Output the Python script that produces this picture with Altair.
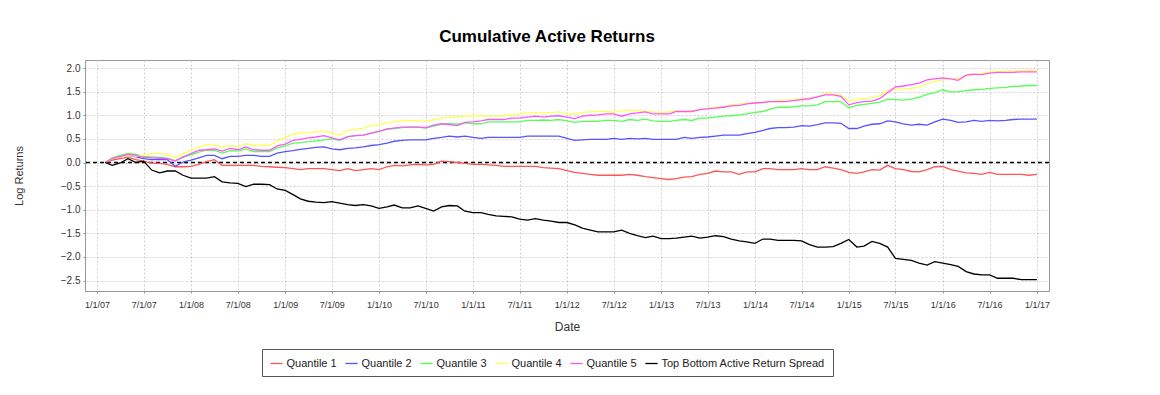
import altair as alt
import pandas as pd

# Monthly observation dates (first of month), Feb 2007 .. Jan 2017
dates = pd.date_range("2007-02-01", periods=120, freq="MS").strftime("%Y-%m-%d").tolist()

series_names = ["Quantile 1", "Quantile 2", "Quantile 3", "Quantile 4", "Quantile 5",
                "Top Bottom Active Return Spread"]
series_colors = ["#ff5555", "#5555ff", "#55ff55", "#ffff55", "#ff55ff", "#000000"]
series_widths = [1.3, 1.3, 1.3, 1.3, 1.3, 3.0]

q1 = [0.00, 0.05, 0.08, 0.11, 0.06, 0.03, -0.01, -0.02, -0.04, -0.09, -0.09, -0.08, -0.04, 0.02, 0.06, -0.06, -0.06, -0.06, -0.06, -0.06, -0.08, -0.09, -0.10,
      -0.11, -0.13, -0.15, -0.13, -0.13, -0.13, -0.15, -0.17, -0.13, -0.17, -0.15, -0.13, -0.15, -0.09, -0.06, -0.07, -0.05, -0.04, -0.05, -0.04, 0.03, 0.02, 0.00, -0.02,
      -0.04, -0.04, -0.05, -0.06, -0.08, -0.08, -0.08, -0.08, -0.08, -0.11, -0.12, -0.13, -0.17, -0.21, -0.23, -0.25, -0.27, -0.27, -0.27, -0.27, -0.25, -0.27, -0.30, -0.32,
      -0.34, -0.36, -0.34, -0.31, -0.30, -0.25, -0.23, -0.18, -0.20, -0.20, -0.25, -0.20, -0.20, -0.13, -0.13, -0.15, -0.15, -0.15, -0.13, -0.15, -0.15, -0.09, -0.12, -0.15, -0.21,
      -0.23, -0.20, -0.15, -0.16, -0.06, -0.13, -0.15, -0.19, -0.20, -0.15, -0.09, -0.08, -0.15, -0.18, -0.22, -0.23, -0.25, -0.21, -0.25, -0.25, -0.25, -0.25, -0.27, -0.25]

q2 = [0.00, 0.08, 0.12, 0.15, 0.12, 0.08, 0.06, 0.06, 0.06, -0.08, 0.01, 0.05, 0.10, 0.15, 0.15, 0.08, 0.13, 0.13, 0.15, 0.15, 0.13, 0.13, 0.20,
      0.23, 0.25, 0.28, 0.30, 0.32, 0.33, 0.29, 0.27, 0.30, 0.31, 0.33, 0.36, 0.38, 0.41, 0.45, 0.47, 0.48, 0.48, 0.48, 0.51, 0.53, 0.56, 0.54, 0.56,
      0.53, 0.51, 0.53, 0.53, 0.53, 0.53, 0.53, 0.56, 0.56, 0.56, 0.56, 0.56, 0.51, 0.47, 0.48, 0.49, 0.49, 0.49, 0.51, 0.49, 0.51, 0.50, 0.51, 0.49,
      0.49, 0.49, 0.49, 0.53, 0.51, 0.53, 0.54, 0.56, 0.58, 0.58, 0.58, 0.61, 0.64, 0.68, 0.72, 0.74, 0.74, 0.75, 0.78, 0.77, 0.80, 0.84, 0.84, 0.83, 0.72,
      0.72, 0.77, 0.81, 0.82, 0.88, 0.86, 0.82, 0.79, 0.81, 0.79, 0.86, 0.92, 0.89, 0.85, 0.86, 0.89, 0.87, 0.89, 0.88, 0.89, 0.91, 0.92, 0.92, 0.92]

q3 = [0.00, 0.10, 0.15, 0.19, 0.17, 0.13, 0.12, 0.11, 0.09, 0.04, 0.11, 0.16, 0.22, 0.26, 0.26, 0.20, 0.25, 0.24, 0.29, 0.23, 0.23, 0.23, 0.31,
      0.35, 0.41, 0.42, 0.44, 0.46, 0.48, 0.50, 0.47, 0.54, 0.57, 0.58, 0.62, 0.66, 0.70, 0.72, 0.74, 0.75, 0.75, 0.73, 0.77, 0.81, 0.82, 0.81, 0.84,
      0.82, 0.82, 0.86, 0.86, 0.86, 0.86, 0.86, 0.89, 0.89, 0.90, 0.89, 0.91, 0.88, 0.85, 0.87, 0.87, 0.87, 0.89, 0.89, 0.87, 0.91, 0.89, 0.92, 0.88,
      0.87, 0.87, 0.89, 0.91, 0.89, 0.94, 0.94, 0.96, 0.98, 0.99, 1.01, 1.03, 1.06, 1.08, 1.13, 1.17, 1.17, 1.18, 1.20, 1.20, 1.22, 1.29, 1.29, 1.29, 1.16,
      1.21, 1.23, 1.25, 1.28, 1.34, 1.33, 1.32, 1.34, 1.38, 1.44, 1.48, 1.54, 1.49, 1.50, 1.52, 1.54, 1.55, 1.57, 1.58, 1.59, 1.61, 1.62, 1.63, 1.63]

q4 = [0.00, 0.08, 0.12, 0.15, 0.13, 0.15, 0.19, 0.19, 0.17, 0.10, 0.19, 0.26, 0.33, 0.38, 0.37, 0.33, 0.36, 0.33, 0.40, 0.36, 0.36, 0.36, 0.46,
      0.53, 0.60, 0.62, 0.64, 0.65, 0.66, 0.63, 0.58, 0.68, 0.70, 0.73, 0.78, 0.80, 0.84, 0.86, 0.88, 0.89, 0.88, 0.87, 0.91, 0.94, 0.96, 0.96, 0.99,
      0.99, 0.99, 0.98, 0.98, 0.99, 1.01, 1.03, 1.05, 1.05, 1.05, 1.05, 1.07, 1.03, 1.03, 1.06, 1.07, 1.08, 1.08, 1.06, 1.10, 1.11, 1.10, 1.08, 1.07,
      1.06, 1.07, 1.10, 1.08, 1.10, 1.12, 1.14, 1.17, 1.19, 1.22, 1.24, 1.25, 1.27, 1.28, 1.29, 1.32, 1.32, 1.33, 1.35, 1.36, 1.40, 1.45, 1.45, 1.42, 1.30,
      1.33, 1.35, 1.37, 1.41, 1.52, 1.55, 1.56, 1.57, 1.60, 1.67, 1.71, 1.75, 1.78, 1.78, 1.83, 1.86, 1.88, 1.92, 1.93, 1.94, 1.94, 1.95, 1.95, 1.95]

q5 = [0.00, 0.09, 0.13, 0.17, 0.15, 0.11, 0.10, 0.09, 0.08, 0.03, 0.12, 0.19, 0.26, 0.27, 0.29, 0.24, 0.30, 0.27, 0.33, 0.27, 0.26, 0.26, 0.35,
      0.39, 0.47, 0.49, 0.52, 0.54, 0.57, 0.52, 0.48, 0.55, 0.57, 0.58, 0.62, 0.66, 0.71, 0.73, 0.75, 0.75, 0.75, 0.74, 0.79, 0.82, 0.80, 0.78, 0.85,
      0.86, 0.88, 0.91, 0.91, 0.91, 0.94, 0.94, 0.96, 0.98, 0.96, 0.98, 0.99, 0.96, 0.93, 0.98, 1.00, 1.01, 1.03, 1.03, 0.98, 1.03, 1.05, 1.07, 1.03,
      1.03, 1.03, 1.08, 1.08, 1.08, 1.12, 1.14, 1.15, 1.17, 1.20, 1.21, 1.24, 1.26, 1.27, 1.29, 1.29, 1.29, 1.31, 1.33, 1.35, 1.39, 1.43, 1.43, 1.40, 1.22,
      1.27, 1.29, 1.30, 1.35, 1.48, 1.60, 1.62, 1.65, 1.68, 1.75, 1.77, 1.79, 1.77, 1.74, 1.85, 1.87, 1.86, 1.89, 1.91, 1.91, 1.91, 1.92, 1.92, 1.92]

spread = [0.00, -0.06, -0.01, 0.08, 0.00, 0.03, -0.16, -0.22, -0.18, -0.18, -0.27, -0.33, -0.33, -0.33, -0.30, -0.41, -0.43, -0.44, -0.51, -0.46, -0.46, -0.47, -0.56,
          -0.59, -0.68, -0.77, -0.82, -0.84, -0.85, -0.83, -0.86, -0.89, -0.91, -0.89, -0.92, -0.97, -0.94, -0.90, -0.96, -0.96, -0.92, -0.97, -1.03, -0.94, -0.91, -0.92, -1.03,
          -1.06, -1.06, -1.10, -1.13, -1.14, -1.15, -1.20, -1.22, -1.19, -1.22, -1.24, -1.27, -1.27, -1.32, -1.39, -1.43, -1.47, -1.47, -1.47, -1.43, -1.50, -1.55, -1.59, -1.56,
          -1.61, -1.61, -1.60, -1.58, -1.56, -1.60, -1.58, -1.55, -1.57, -1.62, -1.66, -1.68, -1.71, -1.62, -1.62, -1.65, -1.65, -1.65, -1.66, -1.74, -1.79, -1.79, -1.78, -1.71, -1.63,
          -1.79, -1.77, -1.67, -1.71, -1.79, -2.03, -2.05, -2.07, -2.13, -2.17, -2.10, -2.13, -2.16, -2.20, -2.31, -2.36, -2.38, -2.38, -2.45, -2.45, -2.45, -2.48, -2.48, -2.48]

y_ticks = [-2.5, -2.0, -1.5, -1.0, -0.5, 0.0, 0.5, 1.0, 1.5, 2.0]
x_tick_years = list(range(2007, 2017))

rows = []
for name, vals in zip(series_names, [q1, q2, q3, q4, q5, spread]):
    for d, v in zip(dates, vals):
        rows.append({"date": d, "value": v, "series": name})
df = pd.DataFrame(rows)

x_ticks = []
for yr in x_tick_years:
    x_ticks.append(alt.DateTime(year=yr, month=1, date=1, utc=True))
    x_ticks.append(alt.DateTime(year=yr, month=7, date=1, utc=True))
x_ticks.append(alt.DateTime(year=2017, month=1, date=1, utc=True))

FONT = "Liberation Sans"

legend = alt.Legend(
    title=None, orient="none", legendX=177, legendY=289, direction="horizontal",
    columns=6, columnPadding=5, symbolType="stroke", symbolSize=150, labelFontSize=11,
    labelFont=FONT, labelColor="#222", labelOffset=3, padding=7.5,
    strokeColor="#555", fillColor="white", labelLimit=400,
)

y_scale = alt.Scale(domain=[-2.72, 2.17], nice=False, zero=False)
y_axis = alt.Axis(values=y_ticks, format=".1f", title="Log Returns", labelOverlap=False,
                  labelFontSize=10, titleFontSize=11, labelPadding=3, titlePadding=36)

lines = alt.Chart(df).mark_line(clip=True).encode(
    x=alt.X("date:T",
            scale=alt.Scale(type="utc",
                            domain=[alt.DateTime(year=2006, month=11, date=15, utc=True),
                                    alt.DateTime(year=2017, month=2, date=17, utc=True)]),
            axis=alt.Axis(values=x_ticks, format="%-m/%-d/%y", title="Date", labelOverlap=False,
                          labelFontSize=9, titleFontSize=12, labelPadding=7, titlePadding=12)),
    y=alt.Y("value:Q", scale=y_scale, axis=y_axis),
    color=alt.Color("series:N", scale=alt.Scale(domain=series_names, range=series_colors),
                    sort=series_names, legend=legend),
    strokeWidth=alt.StrokeWidth("series:N", scale=alt.Scale(domain=series_names, range=series_widths),
                                sort=series_names, legend=legend),
)

zero = alt.Chart(pd.DataFrame({"value": [0.0]})).mark_rule(
    color="black", strokeDash=[4, 3], strokeWidth=1.3
).encode(y=alt.Y("value:Q", scale=y_scale, axis=y_axis))

chart = alt.layer(zero, lines).properties(
    width=964, height=231,
    padding={"left": 5, "top": 20, "right": 5, "bottom": 5},
    title=alt.TitleParams("Cumulative Active Returns", fontSize=17, fontWeight="bold",
                          font=FONT, anchor="middle", dx=-20, offset=14, color="black"),
).configure_view(
    stroke="#999", strokeWidth=1
).configure_axis(
    gridColor="#d0d0d0", gridDash=[2, 2], gridWidth=1,
    domainColor="#999", tickColor="#999", tickSize=2, labelOverlap=False,
    labelColor="#333", titleColor="#333", labelFont=FONT, titleFont=FONT,
    titleFontWeight="normal",
)

chart.save("out.html", embed_options={"renderer": "svg", "actions": False})
